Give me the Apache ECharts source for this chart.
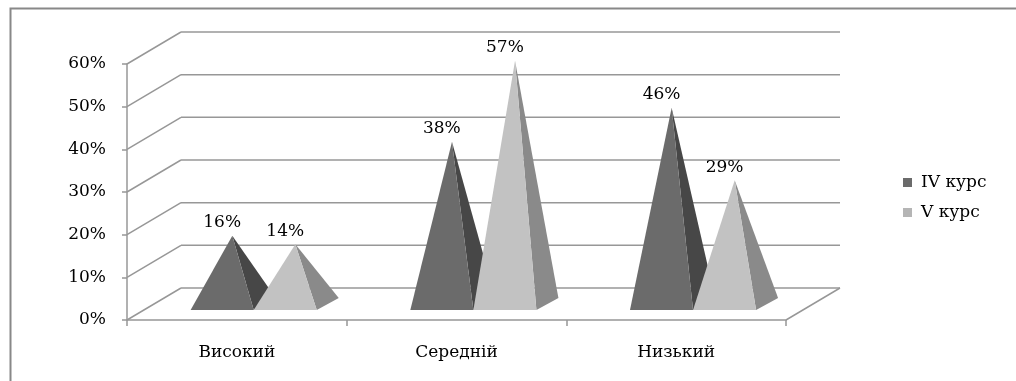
<!DOCTYPE html>
<html>
<head>
<meta charset="utf-8">
<script src="https://cdn.jsdelivr.net/npm/echarts@6/dist/echarts.min.js"></script>
<style>
  html, body { margin: 0; padding: 0; background: #fff; }
  #chart { width: 1016px; height: 381px; }
</style>
</head>
<body>
<div id="chart"></div>
<script>
const categories = ['Високий', 'Середній', 'Низький']
const seriesNames = ['IV курс', 'V курс']
const course4 = [16, 38, 46]
const course5 = [14, 57, 29]
const yTicks = [0, 10, 20, 30, 40, 50, 60]

const FONT = 'DejaVu Serif'
const FS = 17
const LINE = '#979797'
// offset of the back wall against the front plane
const DEPTH = [54, -32]

// back wall + side wall gridlines, one item per tick
function wallItem (params, api) {
  const cs = params.coordSys
  const v = api.value(1)
  const y = api.coord([0, v])[1]
  const x0 = cs.x
  const x1 = cs.x + cs.width
  const style = { stroke: LINE, lineWidth: 1.5 }
  const children = [
    { type: 'line', shape: { x1: x0, y1: y, x2: x0 + DEPTH[0], y2: y + DEPTH[1] }, style },
    { type: 'line', shape: { x1: x0 + DEPTH[0], y1: y + DEPTH[1], x2: x1 + DEPTH[0], y2: y + DEPTH[1] }, style }
  ]
  if (v === 0) {
    children.push({ type: 'line', shape: { x1: x1, y1: y, x2: x1 + DEPTH[0], y2: y + DEPTH[1] }, style })
  }
  return { type: 'group', children }
}

function pyramidItem (side, frontColor, rightColor) {
  return function (params, api) {
    const cat = api.value(0)
    const val = api.value(1)
    const base = api.coord([cat, 0])
    const top = api.coord([cat, val])
    const bw = api.size([1, 0])[0]
    const pw = bw * 0.287
    const fx = DEPTH[0] * 0.3125, fy = DEPTH[1] * 0.3125
    const mx = DEPTH[0] * 0.5, my = DEPTH[1] * 0.5
    const x0 = base[0] + fx + (side === 0 ? -pw : 0)
    const yb = base[1] + fy
    const apex = [x0 + pw / 2 + (mx - fx), top[1] + my]
    return {
      type: 'group',
      children: [
        {
          type: 'polygon',
          shape: { points: [[x0 + pw, yb], [x0 + pw + 22, yb - 12], apex] },
          style: { fill: rightColor }
        },
        {
          type: 'polygon',
          shape: { points: [[x0, yb], [x0 + pw, yb], apex] },
          style: { fill: frontColor }
        },
        {
          type: 'text',
          style: {
            text: val + '%', x: x0 + pw / 2, y: apex[1] - 13,
            align: 'center', verticalAlign: 'middle',
            font: FS + 'px "' + FONT + '"', fill: '#000'
          }
        }
      ]
    }
  }
}

const chart = echarts.init(document.getElementById('chart'))
chart.setOption({
  animation: false,
  backgroundColor: '#fff',
  graphic: [{
    type: 'rect', left: 8, top: 6, z: -1,
    shape: { width: 1100, height: 420 },
    style: { fill: 'none', stroke: '#888', lineWidth: 2 }
  }],
  legend: {
    orient: 'vertical',
    left: 898,
    top: 169,
    itemWidth: 9,
    itemHeight: 9,
    itemGap: 13,
    icon: 'rect',
    textStyle: { fontFamily: FONT, fontSize: FS, color: '#000', padding: [0, 0, 0, 4] },
    data: [
      { name: seriesNames[0], itemStyle: { color: '#6b6b6b' } },
      { name: seriesNames[1], itemStyle: { color: '#b5b5b5' } }
    ]
  },
  grid: { left: 127, right: 230, top: 64, bottom: 61 },
  xAxis: {
    type: 'category',
    data: categories,
    axisLine: { lineStyle: { color: LINE, width: 1.5 } },
    axisTick: { show: true, length: 6, interval: 0, lineStyle: { color: LINE, width: 1.5 } },
    axisLabel: { margin: 24, fontFamily: FONT, fontSize: FS, color: '#000' },
    splitLine: { show: false }
  },
  yAxis: {
    type: 'value',
    min: 0,
    max: 60,
    interval: 10,
    axisLine: { show: true, lineStyle: { color: LINE, width: 1.5 } },
    axisTick: { show: true, length: 5, lineStyle: { color: LINE, width: 1.5 } },
    axisLabel: { margin: 21, formatter: '{value}%', fontFamily: FONT, fontSize: FS, color: '#000' },
    splitLine: { show: false }
  },
  series: [
    {
      type: 'custom',
      name: 'walls',
      silent: true,
      clip: false,
      z: 1,
      data: yTicks.map(v => [0, v]),
      renderItem: wallItem
    },
    {
      type: 'custom',
      name: seriesNames[0],
      clip: false,
      z: 2,
      itemStyle: { color: '#6b6b6b' },
      data: course4.map((v, i) => [i, v]),
      renderItem: pyramidItem(0, '#6b6b6b', '#474747')
    },
    {
      type: 'custom',
      name: seriesNames[1],
      clip: false,
      z: 2,
      itemStyle: { color: '#b5b5b5' },
      data: course5.map((v, i) => [i, v]),
      renderItem: pyramidItem(1, '#c2c2c2', '#8a8a8a')
    }
  ]
})
</script>
</body>
</html>
